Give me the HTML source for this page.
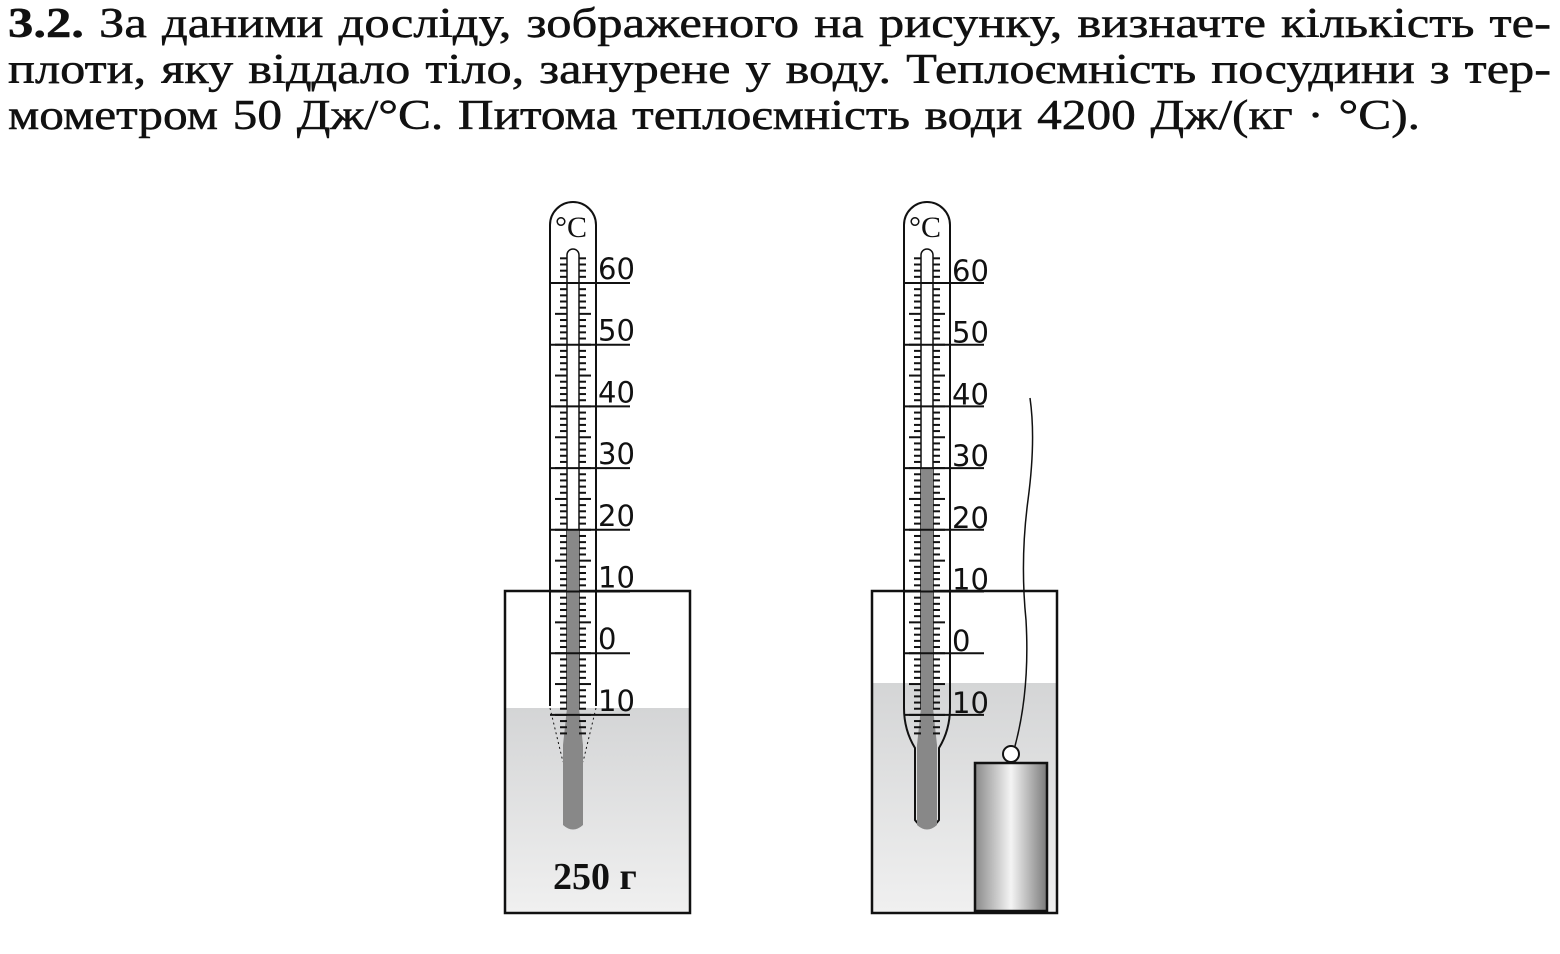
<!DOCTYPE html>
<html><head><meta charset="utf-8"><style>
body{margin:0;width:1560px;height:954px;background:#fff;overflow:hidden;position:relative}
.t{position:absolute;left:8px;font-family:"Liberation Serif",serif;font-size:42px;color:#111;white-space:nowrap;line-height:46px;transform-origin:0 0;-webkit-text-stroke:0.5px #111;word-spacing:2px}
svg{position:absolute;left:0;top:0}
</style></head><body>
<div class="t" style="top:1px" data-w="1543"><b>3.2.</b> За даними досліду, зображеного на рисунку, визначте кількість те-</div>
<div class="t" style="top:47px" data-w="1543">плоти, яку віддало тіло, занурене у воду. Теплоємність посудини з тер-</div>
<div class="t" style="top:93px" data-w="1412">мометром 50 Дж/°С. Питома теплоємність води 4200 Дж/(кг · °С).</div>
<svg id="s" width="1560" height="954" xmlns="http://www.w3.org/2000/svg">
<defs>
<linearGradient id="w" x1="0" y1="0" x2="0" y2="1"><stop offset="0" stop-color="#d4d5d6"/><stop offset="1" stop-color="#f0f0f0"/></linearGradient>
<linearGradient id="c" x1="0" y1="0" x2="1" y2="0"><stop offset="0" stop-color="#8a8a8a"/><stop offset="0.5" stop-color="#f4f4f4"/><stop offset="1" stop-color="#7a7a7a"/></linearGradient>
</defs>
</svg>
<script>
document.querySelectorAll('.t').forEach(d=>{const w=d.getBoundingClientRect().width;d.style.transform='scaleX('+(+d.dataset.w/w)+')';});
const labels=[60,50,40,30,20,10,0,10];
const temps=[20,30];
const waterY=[708,683];
const s=document.getElementById('s');
const NS='http://www.w3.org/2000/svg';
function el(t,a,p){const e=document.createElementNS(NS,t);for(const k in a)e.setAttribute(k,a[k]);(p||s).appendChild(e);return e;}
function yOf(T){return 283+(60-T)*6.17;}
[0,1].forEach(i=>{
  const dx=i*354;
  const g=el('g',{});
  
  
  const bx=505+i*367;
  el('rect',{x:bx,y:waterY[i],width:185,height:913-waterY[i],fill:'url(#w)'},g);
  el('rect',{x:bx,y:591,width:185,height:322,fill:'none',stroke:'#111','stroke-width':2.5},g);
  const L=550+dx,R=596+dx,cx=573+dx;
  const bot=i?708:706;
  el('path',{d:`M${L} ${bot} L${L} 225 A23 23 0 0 1 ${R} 225 L${R} ${bot}`,fill:'none',stroke:'#111','stroke-width':2},g);
  if(i){el('path',{d:`M${L} 708 Q${L} 730 ${cx-12} 748 L${cx-12} 820 Q${cx} 836 ${cx+12} 820 L${cx+12} 748 Q${R} 730 ${R} 708`,fill:'none',stroke:'#111','stroke-width':2},g);}
  else{el('path',{d:`M${L} 708 L${cx-10} 762 M${R} 708 L${cx+10} 762`,fill:'none',stroke:'#111','stroke-width':1,'stroke-dasharray':'2 3'},g);}
  el('text',{x:L+5,y:237,'font-family':'Liberation Serif, serif','font-size':30,fill:'#111'},g).textContent='°C';
  el('path',{d:`M${cx-6} 708 L${cx-6} 255 A6 6 0 0 1 ${cx+6} 255 L${cx+6} 708`,fill:'none',stroke:'#111','stroke-width':1.5},g);
  const ly=yOf(temps[i]);
  el('path',{d:`M${cx-6} ${ly} L${cx+6} ${ly} L${cx+6} 708 L${cx+10} 745 L${cx+10} 825 Q${cx} 834 ${cx-10} 825 L${cx-10} 745 L${cx-6} 708Z`,fill:'#888'},g);
  for(let T=64;T>=-13;T--){
    const y=yOf(T);
    const major=T%5===0;
    const len=major?12:7;
    el('line',{x1:cx-6-len,y1:y,x2:cx-6,y2:y,stroke:'#111','stroke-width':2},g);
    el('line',{x1:cx+6,y1:y,x2:cx+6+len,y2:y,stroke:'#111','stroke-width':2},g);
  }
  labels.forEach((v,k)=>{
    const yl=283+k*61.7;
    el('line',{x1:L,y1:yl,x2:L+80,y2:yl,stroke:'#111','stroke-width':2},g);
    const t=el('text',{x:R+2,y:yl-4+(i?2:0),'font-family':'DejaVu Sans, sans-serif','font-size':29,fill:'#111'},g);
    t.textContent=v;
  });
});
const b=el('g',{});


el('path',{d:'M1030 398 Q1036 440 1028 500 Q1020 560 1026 620 Q1030 690 1015 746',fill:'none',stroke:'#111','stroke-width':1.5},b);
el('circle',{cx:1011,cy:754,r:8,fill:'#fff',stroke:'#111','stroke-width':2},b);
el('rect',{x:975,y:763,width:72,height:148,fill:'url(#c)',stroke:'#111','stroke-width':2.5},b);
const lb=el('text',{x:553,y:889,'font-family':'Liberation Serif, serif','font-size':38,'font-weight':'bold',fill:'#111'});


lb.textContent='250 г';
</script>
</body></html>
